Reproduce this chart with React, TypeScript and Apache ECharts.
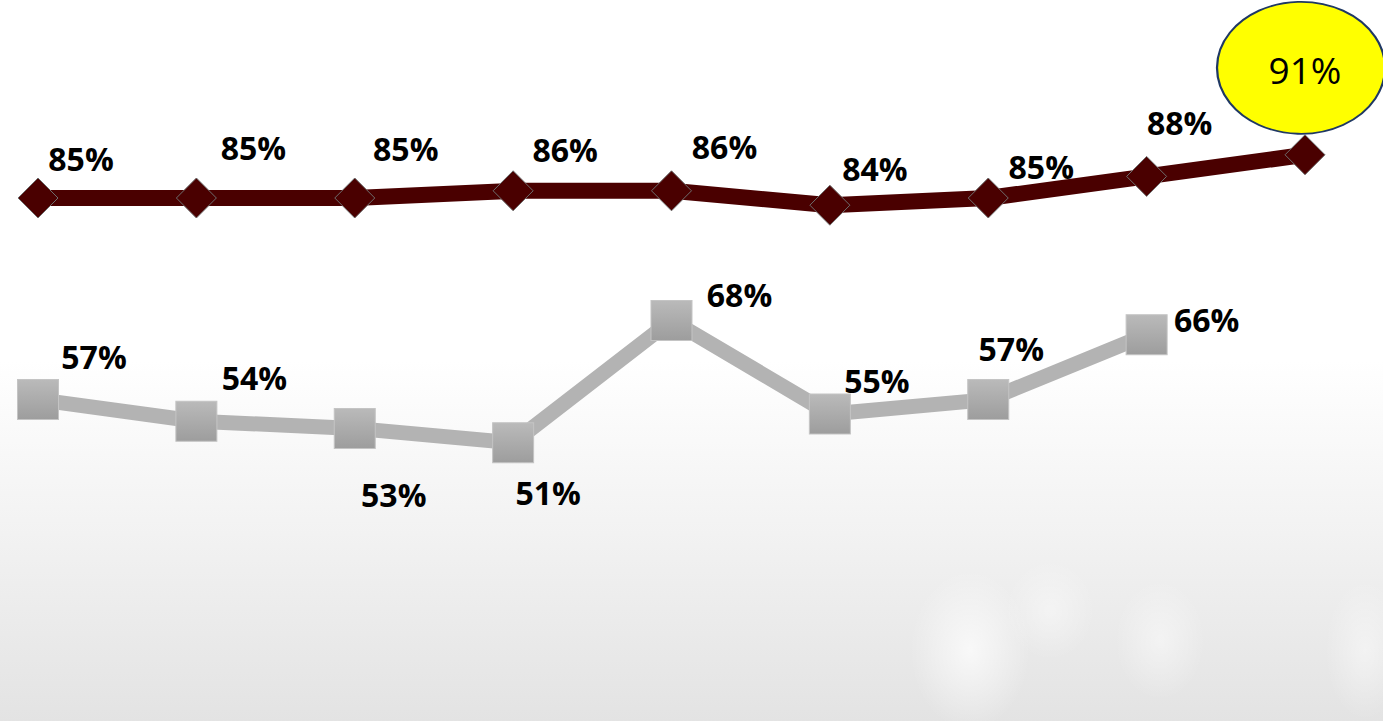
import React, { useEffect, useRef } from "react";
import * as echarts from "echarts";

const categories = ["P1", "P2", "P3", "P4", "P5", "P6", "P7", "P8", "P9"];
const topSeries = [85, 85, 85, 86, 86, 84, 85, 88, 91];
const bottomSeries = [57, 54, 53, 51, 68, 55, 57, 66, null];

// label offsets (style only)
const topOffsets = [[43, -40], [57, -51], [51, -50], [52, -41], [53, -44], [45, -37], [53, -32], [33, -54], [0, 0]];
const bottomOffsets = [[56, -43], [58, -44], [39, 66], [35, 50], [68, -26], [47, -34], [23, -51], [60, -15], [0, 0]];

const FONT = "'Open Sans', 'Noto Sans', sans-serif";

export default function App() {
  const ref = useRef<HTMLDivElement>(null);
  useEffect(() => {
    if (!ref.current) return;
    const chart = echarts.init(ref.current, undefined, { renderer: "svg" });
    const lastIdx = topSeries.length - 1;
    const labelBase = {
      show: true,
      position: "inside",
      color: "#000",
      fontWeight: "bold",
      fontSize: 32,
      fontFamily: FONT,
      formatter: (p: any) => `${p.value}%`,
    };
    const cloud = (cx: number, cy: number, rx: number, ry: number, op: number) => ({
      type: "ellipse",
      shape: { cx, cy, rx, ry },
      silent: true,
      z: -10,
      style: {
        fill: new echarts.graphic.RadialGradient(0.5, 0.5, 0.5, [
          { offset: 0, color: `rgba(255,255,255,${op})` },
          { offset: 1, color: "rgba(255,255,255,0)" },
        ]),
      },
    });
    chart.setOption({
      animation: false,
      backgroundColor: new echarts.graphic.LinearGradient(0, 0, 0, 1, [
        { offset: 0, color: "#ffffff" },
        { offset: 0.5, color: "#ffffff" },
        { offset: 0.74, color: "#f2f2f2" },
        { offset: 1, color: "#e3e3e3" },
      ]),
      graphic: [
        cloud(970, 650, 60, 80, 0.7),
        cloud(1050, 610, 45, 50, 0.4),
        cloud(1160, 640, 45, 60, 0.45),
        cloud(1365, 650, 40, 70, 0.45),
      ],
      grid: { left: 38, right: 78, top: 90, bottom: 127 },
      xAxis: {
        type: "category",
        data: categories,
        boundaryGap: false,
        show: false,
      },
      yAxis: { type: "value", min: 30, max: 100, show: false },
      series: [
        {
          type: "line",
          data: bottomSeries.map((v, i) => ({
            value: v,
            label: { offset: bottomOffsets[i] },
          })),
          symbol: "rect",
          symbolSize: [41, 40],
          lineStyle: { color: "#b3b3b3", width: 15 },
          itemStyle: {
            color: new echarts.graphic.LinearGradient(0, 0, 0, 1, [
              { offset: 0, color: "#bababa" },
              { offset: 1, color: "#9d9d9d" },
            ]),
            borderColor: "#c4c4c4",
            borderWidth: 1,
          },
          label: labelBase,
          z: 2,
        },
        {
          type: "line",
          data: topSeries.map((v, i) => ({
            value: v,
            label: i === lastIdx ? { show: false } : { offset: topOffsets[i] },
          })),
          symbol: "diamond",
          symbolSize: [40, 40],
          lineStyle: { color: "#4a0000", width: 16 },
          itemStyle: { color: "#4a0000", borderColor: "#6e6e6e", borderWidth: 1 },
          label: labelBase,
          markPoint: {
            symbol: "circle",
            symbolSize: [168, 132],
            symbolOffset: [-4, -87],
            itemStyle: { color: "#ffff00", borderColor: "#1f3864", borderWidth: 2 },
            label: {
              show: true,
              position: "inside",
              offset: [4, 2],
              color: "#000",
              fontSize: 37,
              fontFamily: FONT,
              formatter: () => `${topSeries[lastIdx]}%`,
            },
            data: [{ coord: [lastIdx, topSeries[lastIdx]] }],
          },
          z: 3,
        },
      ],
    });
    return () => chart.dispose();
  }, []);
  return (
    <div
      ref={ref}
      style={{ position: "fixed", left: 0, top: 0, width: 1383, height: 721 }}
    />
  );
}
